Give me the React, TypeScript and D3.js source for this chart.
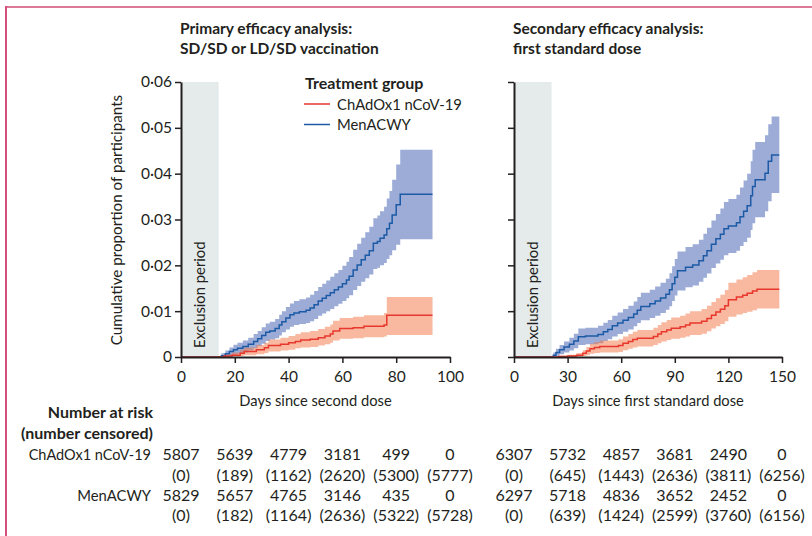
import React, { useEffect, useRef } from "react";
import * as d3 from "d3";

// [day, estimate, lower 95% CI, upper 95% CI]
type Row = [number, number, number, number];

const primaryChAdOx1: Row[] = [
  [0, 0, 0, 0], [16, 0.0002, 0, 0.0006], [19, 0.0004, 0.0001, 0.001], [22, 0.0008, 0.0002, 0.0016],
  [23.5, 0.0012, 0.0004, 0.0021], [28, 0.0016, 0.0006, 0.0026], [31, 0.002, 0.0009, 0.0031],
  [32.5, 0.0025, 0.0012, 0.0038], [37, 0.0028, 0.0014, 0.0042], [40, 0.0031, 0.0016, 0.0046],
  [42.5, 0.0034, 0.0019, 0.005], [44.5, 0.0037, 0.0021, 0.0054], [48, 0.0039, 0.0022, 0.0057],
  [51, 0.0042, 0.0025, 0.0061], [53.5, 0.0046, 0.0028, 0.0066], [55.5, 0.005, 0.0031, 0.0071],
  [56.5, 0.0057, 0.0036, 0.0079], [59, 0.0062, 0.004, 0.0085], [64, 0.0064, 0.0041, 0.0088],
  [68, 0.0067, 0.0043, 0.0091], [75.5, 0.007, 0.0045, 0.0096], [76.5, 0.0091, 0.0048, 0.0131],
  [93.5, 0.0091, 0.0048, 0.0131],
];

const primaryMenACWY: Row[] = [
  [0, 0, 0, 0], [15, 0.0003, 0, 0.0008], [16.5, 0.0007, 0.0001, 0.0014], [18, 0.0012, 0.0003, 0.0021],
  [19.5, 0.0016, 0.0005, 0.0027], [21, 0.0019, 0.0007, 0.0031], [23, 0.0023, 0.001, 0.0036],
  [25, 0.0028, 0.0014, 0.0042], [27, 0.0034, 0.0019, 0.005], [28.5, 0.004, 0.0024, 0.0057],
  [30, 0.0047, 0.0029, 0.0065], [31.5, 0.0054, 0.0035, 0.0073], [33, 0.0057, 0.0038, 0.0077],
  [35, 0.0062, 0.0041, 0.0083], [36.5, 0.007, 0.0047, 0.0092], [37.5, 0.0077, 0.0054, 0.01],
  [39, 0.0085, 0.006, 0.0109], [40.5, 0.0092, 0.0066, 0.0117], [42, 0.0096, 0.007, 0.0122],
  [44, 0.0099, 0.0072, 0.0126], [46.5, 0.0102, 0.0074, 0.013], [48, 0.0107, 0.0078, 0.0136],
  [49.5, 0.0114, 0.0083, 0.0144], [51, 0.0122, 0.009, 0.0153], [52.5, 0.0128, 0.0095, 0.016],
  [54, 0.0134, 0.01, 0.0167], [55.5, 0.014, 0.0105, 0.0175], [57, 0.0147, 0.0111, 0.0183],
  [58.5, 0.0153, 0.0116, 0.019], [60, 0.016, 0.0122, 0.0199], [61.5, 0.0168, 0.0128, 0.0208],
  [62.5, 0.0176, 0.0135, 0.0218], [64, 0.019, 0.0146, 0.0234], [65.5, 0.0201, 0.0155, 0.0247],
  [67, 0.0212, 0.0164, 0.026], [68.5, 0.0222, 0.0172, 0.0272], [70, 0.0232, 0.018, 0.0284],
  [71.5, 0.0248, 0.0192, 0.0303], [73, 0.0252, 0.0195, 0.0309], [74, 0.0259, 0.02, 0.0318],
  [75.5, 0.0266, 0.0205, 0.0328], [76.5, 0.028, 0.0214, 0.0346], [77.5, 0.0292, 0.0222, 0.0362],
  [78.5, 0.031, 0.0233, 0.0387], [80, 0.0332, 0.0245, 0.042], [81.5, 0.0355, 0.0257, 0.0452],
  [93.5, 0.0355, 0.0257, 0.0452],
];

const secondaryChAdOx1: Row[] = [
  [0, 0, 0, 0], [25, 0.0001, 0, 0.0003], [30, 0.0002, 0, 0.0005], [35, 0.0004, 0.0001, 0.0009],
  [38.5, 0.0008, 0.0002, 0.0015], [40.5, 0.0013, 0.0004, 0.0022], [42.5, 0.0018, 0.0007, 0.0029],
  [45, 0.0021, 0.0009, 0.0033], [48, 0.0023, 0.001, 0.0036], [58.5, 0.0025, 0.0011, 0.0039],
  [61, 0.003, 0.0015, 0.0045], [64, 0.0034, 0.0018, 0.005], [66.5, 0.0038, 0.0021, 0.0055],
  [69, 0.0041, 0.0023, 0.0059], [78, 0.0045, 0.0026, 0.0064], [80.5, 0.005, 0.003, 0.007],
  [82.5, 0.0055, 0.0034, 0.0076], [85.5, 0.0059, 0.0037, 0.0081], [88, 0.0063, 0.004, 0.0086],
  [93, 0.0066, 0.0042, 0.009], [96, 0.007, 0.0045, 0.0095], [98.5, 0.0074, 0.0048, 0.01],
  [105, 0.0078, 0.0051, 0.0105], [108, 0.0084, 0.0056, 0.0112], [110.5, 0.0091, 0.0062, 0.012],
  [113, 0.0098, 0.0067, 0.0128], [115.5, 0.0104, 0.0072, 0.0136], [118, 0.0112, 0.0078, 0.0146],
  [120, 0.0125, 0.0088, 0.0162], [124.5, 0.0131, 0.0093, 0.0169], [128, 0.0135, 0.0096, 0.0174],
  [130.5, 0.0139, 0.0099, 0.0179], [133.5, 0.0144, 0.0102, 0.0185], [136, 0.0148, 0.0106, 0.019],
  [148.5, 0.0148, 0.0106, 0.019],
];

const secondaryMenACWY: Row[] = [
  [0, 0, 0, 0], [22, 0.0004, 0, 0.001], [23.5, 0.001, 0.0003, 0.0018], [25.5, 0.0016, 0.0006, 0.0026],
  [28, 0.0022, 0.001, 0.0034], [31, 0.0028, 0.0014, 0.0042], [33.5, 0.0035, 0.0019, 0.0051],
  [36, 0.0044, 0.0026, 0.0062], [40, 0.0046, 0.0028, 0.0064], [47, 0.0049, 0.003, 0.0068],
  [50, 0.0055, 0.0035, 0.0075], [52.5, 0.006, 0.0039, 0.0081], [55, 0.0068, 0.0045, 0.009],
  [58, 0.0074, 0.005, 0.0097], [61, 0.008, 0.0055, 0.0105], [64, 0.0086, 0.006, 0.0112],
  [67, 0.0094, 0.0067, 0.0121], [69, 0.0102, 0.0074, 0.0131], [71, 0.011, 0.008, 0.014],
  [76, 0.0116, 0.0085, 0.0147], [79, 0.0122, 0.009, 0.0154], [82, 0.0129, 0.0096, 0.0162],
  [85, 0.0137, 0.0103, 0.0171], [87, 0.0147, 0.0111, 0.0183], [88.5, 0.016, 0.0122, 0.0198],
  [90, 0.0174, 0.0134, 0.0214], [91.5, 0.0188, 0.0145, 0.023], [96, 0.0196, 0.0152, 0.024],
  [100, 0.0201, 0.0156, 0.0246], [103.5, 0.021, 0.0164, 0.0256], [106, 0.0221, 0.0173, 0.0269],
  [108, 0.0232, 0.0182, 0.0282], [110.5, 0.0246, 0.0194, 0.0298], [113, 0.0258, 0.0204, 0.0312],
  [115.5, 0.0268, 0.0212, 0.0324], [117.5, 0.028, 0.0222, 0.0338], [120, 0.0286, 0.0227, 0.0345],
  [124.5, 0.0293, 0.0232, 0.0354], [126.5, 0.0306, 0.0242, 0.037], [128.5, 0.0318, 0.0251, 0.0385],
  [130.5, 0.033, 0.026, 0.04], [132.5, 0.0352, 0.0277, 0.0427], [133.5, 0.0372, 0.0292, 0.0452],
  [135, 0.0387, 0.0305, 0.0469], [140.5, 0.0401, 0.0318, 0.0484], [142.3, 0.0427, 0.034, 0.0508],
  [144.2, 0.0441, 0.0358, 0.0525], [148.5, 0.0441, 0.0358, 0.0525],
];

const yTicks = [0, 0.01, 0.02, 0.03, 0.04, 0.05, 0.06];
const primaryTicks = [0, 20, 40, 60, 80, 100];
const secondaryTicks = [0, 30, 60, 90, 120, 150];

const primaryRiskChAdOx1 = [5807, 5639, 4779, 3181, 499, 0];
const primaryCensChAdOx1 = [0, 189, 1162, 2620, 5300, 5777];
const primaryRiskMen = [5829, 5657, 4765, 3146, 435, 0];
const primaryCensMen = [0, 182, 1164, 2636, 5322, 5728];
const secondaryRiskChAdOx1 = [6307, 5732, 4857, 3681, 2490, 0];
const secondaryCensChAdOx1 = [0, 645, 1443, 2636, 3811, 6256];
const secondaryRiskMen = [6297, 5718, 4836, 3652, 2452, 0];
const secondaryCensMen = [0, 639, 1424, 2599, 3760, 6156];

const RED = "#e8372c";
const BLUE = "#1c5aa6";
const INK = "#231f20";
const FONT = "Lato, 'Open Sans', sans-serif";

const y = d3.scaleLinear().domain([0, 0.06]).range([357, 82]);
const fmt = (v: number) => (v === 0 ? "0" : d3.format(".2f")(v).replace(".", "·"));

type PanelProps = {
  x0: number;
  x1: number;
  maxDay: number;
  ticks: number[];
  exclusion: number;
  title: string[];
  xLabel: string;
  showYLabels: boolean;
  red: Row[];
  blue: Row[];
  riskRed: number[];
  censRed: number[];
  riskBlue: number[];
  censBlue: number[];
};

const Panel: React.FC<PanelProps> = (p) => {
  const xRef = useRef<SVGGElement>(null);
  const yRef = useRef<SVGGElement>(null);
  const x = d3.scaleLinear().domain([0, p.maxDay]).range([p.x0, p.x1]);

  useEffect(() => {
    const xa = d3.select(xRef.current!);
    xa.selectAll("*").remove();
    xa.call(d3.axisBottom(x).tickValues(p.ticks).tickSize(6).tickSizeOuter(0).tickPadding(8));
    const ya = d3.select(yRef.current!);
    ya.selectAll("*").remove();
    ya.call(
      d3
        .axisLeft(y)
        .tickValues(yTicks)
        .tickSize(6)
        .tickSizeOuter(0)
        .tickPadding(3)
        .tickFormat((d) => (p.showYLabels ? fmt(d as number) : ""))
    );
    for (const g of [xa, ya]) {
      g.select(".domain").attr("stroke", INK).attr("stroke-width", 2);
      g.selectAll(".tick line").attr("stroke", INK).attr("stroke-width", 1.5);
      g.selectAll(".tick text").attr("fill", INK).attr("font-size", 15.5).attr("font-family", FONT);
    }
  }, []);

  const area = d3
    .area<Row>()
    .x((d) => x(d[0]))
    .y0((d) => y(d[2]))
    .y1((d) => y(d[3]))
    .curve(d3.curveStepAfter);
  const line = d3
    .line<Row>()
    .x((d) => x(d[0]))
    .y((d) => y(d[1]))
    .curve(d3.curveStepAfter);

  const exX = x(p.exclusion);
  const rows = [
    { vals: p.riskRed, paren: false, yy: 460 },
    { vals: p.censRed, paren: true, yy: 481 },
    { vals: p.riskBlue, paren: false, yy: 501 },
    { vals: p.censBlue, paren: true, yy: 521 },
  ];

  return (
    <g fontFamily={FONT} fill={INK}>
      {p.title.map((t, i) => (
        <text key={t} x={p.x0 - 1} y={34 + i * 20} fontSize={15.5} fontWeight={700}>
          {t}
        </text>
      ))}
      <rect x={p.x0} y={y(0.06)} width={exX - p.x0} height={y(0) - y(0.06)} fill="#e5eaea" />
      <text transform={`translate(${(p.x0 + exX) / 2 + 5.5},348) rotate(-90)`} fontSize={14.8}>
        Exclusion period
      </text>
      <path d={area(p.blue)!} fill="rgb(58,90,175)" fillOpacity={0.5} />
      <path d={area(p.red)!} fill="rgb(242,115,66)" fillOpacity={0.5} />
      <path d={line(p.blue)!} fill="none" stroke={BLUE} strokeWidth={1.5} />
      <path d={line(p.red)!} fill="none" stroke={RED} strokeWidth={1.5} />
      <g ref={xRef} transform={`translate(0,${y(0)})`} />
      <g ref={yRef} transform={`translate(${p.x0},0)`} />
      <text x={(p.x0 + p.x1) / 2} y={406} textAnchor="middle" fontSize={14.7}>
        {p.xLabel}
      </text>
      {rows.map((r, ri) =>
        r.vals.map((v, i) => (
          <text key={`${ri}-${i}`} x={x(p.ticks[i])} y={r.yy} textAnchor="middle" fontSize={16}>
            {r.paren ? `(${v})` : v}
          </text>
        ))
      )}
    </g>
  );
};

const App: React.FC = () => {
  return (
    <svg width={812} height={536} style={{ position: "absolute", left: 0, top: 0, background: "#fff" }}>
      <line x1={6} y1={7} x2={812} y2={7} stroke="#dc7b98" strokeWidth={2} />
      <line x1={6} y1={6} x2={6} y2={536} stroke="#d4507c" strokeWidth={2} />
      <Panel
        x0={181}
        x1={450}
        maxDay={100}
        ticks={primaryTicks}
        exclusion={14}
        title={["Primary efficacy analysis:", "SD/SD or LD/SD vaccination"]}
        xLabel="Days since second dose"
        showYLabels={true}
        red={primaryChAdOx1}
        blue={primaryMenACWY}
        riskRed={primaryRiskChAdOx1}
        censRed={primaryCensChAdOx1}
        riskBlue={primaryRiskMen}
        censBlue={primaryCensMen}
      />
      <Panel
        x0={514}
        x1={782}
        maxDay={150}
        ticks={secondaryTicks}
        exclusion={21}
        title={["Secondary efficacy analysis:", "first standard dose"]}
        xLabel="Days since first standard dose"
        showYLabels={false}
        red={secondaryChAdOx1}
        blue={secondaryMenACWY}
        riskRed={secondaryRiskChAdOx1}
        censRed={secondaryCensChAdOx1}
        riskBlue={secondaryRiskMen}
        censBlue={secondaryCensMen}
      />
      <g fontFamily={FONT} fill={INK}>
        <text transform="translate(122,220) rotate(-90)" textAnchor="middle" fontSize={15.2}>
          Cumulative proportion of participants
        </text>
        <text x={305} y={89} fontSize={16} fontWeight={700}>
          Treatment group
        </text>
        <line x1={304} x2={330} y1={104} y2={104} stroke={RED} strokeWidth={1.5} />
        <text x={337} y={110} fontSize={14.8}>
          ChAdOx1 nCoV-19
        </text>
        <line x1={304} x2={330} y1={124.5} y2={124.5} stroke={BLUE} strokeWidth={1.5} />
        <text x={337} y={130} fontSize={14.8}>
          MenACWY
        </text>
        <text x={153} y={418} textAnchor="end" fontSize={16} fontWeight={700}>
          Number at risk
        </text>
        <text x={153} y={439} textAnchor="end" fontSize={16} fontWeight={700}>
          (number censored)
        </text>
        <text x={151} y={460} textAnchor="end" fontSize={14.5}>
          ChAdOx1 nCoV-19
        </text>
        <text x={151} y={501} textAnchor="end" fontSize={14.8}>
          MenACWY
        </text>
      </g>
    </svg>
  );
};

export default App;
